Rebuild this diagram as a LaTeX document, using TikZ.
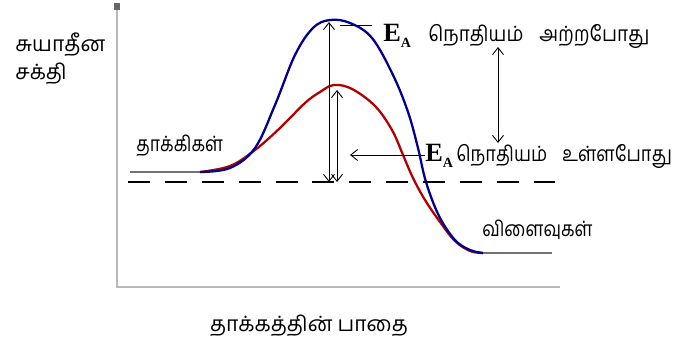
\documentclass[tikz,border=0pt]{standalone}
\usepackage{fontspec}
\newfontfamily\tamilfont[Script=Tamil]{Hind Madurai}
\newfontfamily\timesfont{Liberation Serif}
\usetikzlibrary{positioning, arrows.meta}

\newcommand{\EA}{E\raisebox{-0.45ex}{\fontsize{8}{8}\selectfont A}}
\newcommand{\narrowtext}[2][0.84]{\scalebox{#1}[1]{#2}}

\begin{document}
\begin{tikzpicture}[
    x=0.02cm, y=-0.02cm,
    >={Straight Barb[length=1.4mm, width=2.2mm]},
    tamil/.style={font=\tamilfont\fontsize{12}{16}\selectfont, inner sep=0pt},
    ea/.style={font=\timesfont\bfseries\fontsize{15}{18}\selectfont, inner sep=0pt},
    axisline/.style={draw=black!28, line width=1.7pt},
    plateau/.style={draw=black!55, line width=1.7pt},
    dimline/.style={<->, line width=0.5pt},
    barrier/.style={line width=1.3pt, line join=round}
]
\useasboundingbox (0,0) rectangle (680,347);

% axes
\draw[axisline] (117,5) -- (117,287) -- (560,287);
\fill[black!60] (114,3) rectangle (120,10);

% energy levels
\draw[plateau] (130,172) -- (200,172);
\draw[plateau] (483,253) -- (552,253);
\draw[line width=1.7pt, dash pattern=on 12.5pt off 8.5pt] (128,182) -- (555,182);

% curves
\draw[barrier, draw=red!70!black] plot[smooth, tension=0.6] coordinates {
    (200,172) (230,166) (255,150) (280,128) (305,103) (320,92) (334,85)
    (352,89) (375,106) (392,130) (403,155) (413,178) (425,200) (440,222)
    (455,241) (470,251) (483,253)};
\draw[barrier, draw=blue!55!black] plot[smooth, tension=0.6] coordinates {
    (200,172) (230,168) (255,148) (275,105) (295,55) (313,28) (330,20)
    (350,23) (372,38) (393,75) (408,112) (418,148) (426,182) (439,216)
    (455,240) (470,250) (483,253)};

% points
\coordinate (topB) at (329,22);
\coordinate (baseB) at (329,182);
\coordinate (topR) at (337,90);
\coordinate (baseR) at (337,182);
\coordinate (leadL) at (340,25);
\coordinate (midT) at (498,47);
\coordinate (midB) at (498,143);
\coordinate (tipR) at (350,155);

% labels
\node[tamil, anchor=base west] (yl1) at (15,52) {சுயாதீன};
\node[tamil, anchor=base west] (yl2) at (15,80) {சக்தி};
\node[tamil, anchor=base] (xl) at (309,332) {தாக்கத்தின் பாதை};
\node[tamil, anchor=base west] (react) at (136,152) {\narrowtext{தாக்கிகள்}};
\node[tamil, anchor=base west] (prod) at (482,237) {\narrowtext{விளைவுகள்}};

\node[ea, anchor=base west] (ea1) at (383,42) {\EA};
\node[tamil, anchor=base west] (txt1) at (428,42) {\narrowtext[0.9]{நொதியம்\hspace{10pt}அற்றபோது}};
\node[ea, anchor=base west] (ea2) at (425,162) {\EA};
\node[tamil, anchor=base west] (txt2) at (456,162) {\narrowtext[0.86]{நொதியம்\hspace{10pt}உள்ளபோது}};

% arrows
\draw[dimline] (baseB) -- (topB);
\draw[dimline] (baseR) -- (topR);
\draw[line width=0.5pt] (leadL) -- ([xshift=-6pt]ea1.west |- leadL);
\draw[dimline] (midB) -- (midT);
\draw[->, line width=0.5pt] (ea2.west |- tipR) -- (tipR);

\end{tikzpicture}
\end{document}
